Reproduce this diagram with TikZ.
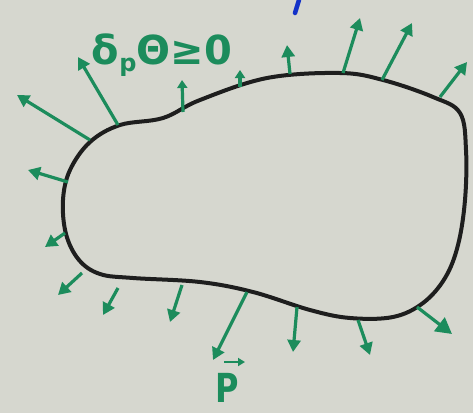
\documentclass[tikz,border=0pt]{standalone}
\usepackage{fontspec}
\setmainfont{DejaVu Sans}
\usetikzlibrary{arrows.meta}
\definecolor{board}{RGB}{214,215,207}
\definecolor{pen}{RGB}{28,140,92}
\definecolor{ink}{RGB}{30,30,30}
\definecolor{bluepen}{RGB}{20,50,200}
\tikzset{
  garrow/.style={draw=pen, line width=3.2pt, -{Triangle[length=12pt,width=13pt]}},
  gsmall/.style={draw=pen, line width=3.2pt, -{Triangle[length=8pt,width=10pt]}},
  gbig/.style={draw=pen, line width=3.2pt, -{Triangle[length=16pt,width=17pt]}},
  lbl/.style={text=pen, inner sep=0pt},
}
\begin{document}
\begin{tikzpicture}[x=1pt,y=-1pt]
\fill[board] (0,0) rectangle (473,413);
\useasboundingbox (0,0) rectangle (473,413);
% blob
\draw[ink, line width=4pt, line join=round]
  plot[smooth cycle, tension=0.6] coordinates {
  (90,142) (120,125) (163,118) (200,100) (267,78) (340,73) (383,80) (433,97)
  (460,113) (466,150) (465,200) (458,245) (445,278) (423,303) (393,317)
  (350,318) (310,310) (253,292) (200,282) (133,278) (100,274) (79,260)
  (66,234) (63,200) (70,170)};
% arrow anchors
\foreach \n/\sx/\sy/\tx/\ty in {
  1/90/140/17/95, 2/118/125/78/57, 3/183/112/182/80, 4/240/87/240/70,
  5/290/74/287/45, 6/343/73/360/18, 7/382/80/412/23, 8/440/97/467/62,
  9/417/307/452/334, 10/358/320/370/355, 11/297/307/293/352, 12/247/292/213/360,
  13/182/285/170/322, 14/118/288/103/315, 15/82/273/58/295, 16/65/233/45/247,
  17/68/182/28/170}{
  \coordinate (s\n) at (\sx,\sy);
  \coordinate (t\n) at (\tx,\ty);
}
\foreach \n in {1,2,5,6,7,8,10,11,12,13,14,15,16,17}{
  \draw[garrow] (s\n) -- (t\n);
}
\draw[gsmall] (s3) -- (t3);
\draw[gsmall] (s4) -- (t4);
\draw[gbig] (s9) -- (t9);
% labels
\node[lbl, font=\bfseries\fontsize{40}{44}\selectfont] (cond) at (162,55)
  {δ\raisebox{-0.35ex}{\fontsize{24}{26}\selectfont p}Θ≥0};
\node[lbl, font=\bfseries\fontsize{40}{44}\selectfont, xscale=0.8] (vecp) at (227,388) {P};
\coordinate (va) at (224,362);
\coordinate (vb) at (245,362);
\draw[pen, line width=2.5pt, -{Triangle[length=7pt,width=8pt]}] (va) -- (vb);
% blue stroke at top
\coordinate (b1) at (299,0);
\coordinate (b2) at (295,13);
\draw[bluepen, line width=4.5pt, line cap=round] (b1) -- (b2);
\end{tikzpicture}
\end{document}
